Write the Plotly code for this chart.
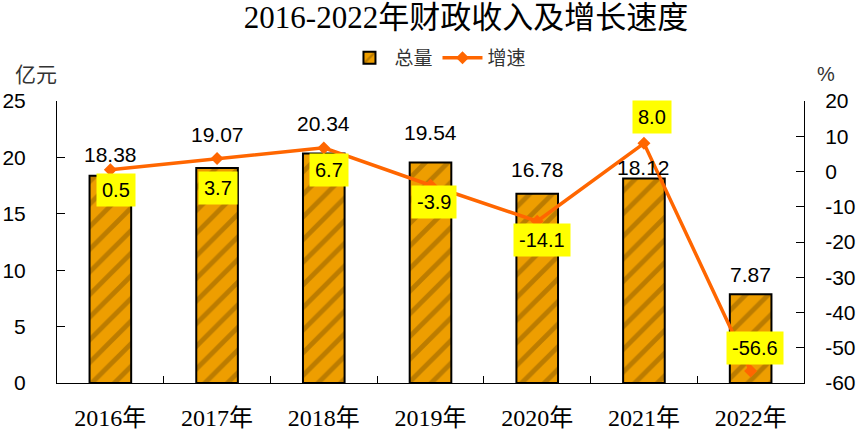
import plotly.graph_objects as go

# ---- data ----
years = ["2016年", "2017年", "2018年", "2019年", "2020年", "2021年", "2022年"]
revenue = [18.38, 19.07, 20.34, 19.54, 16.78, 18.12, 7.87]   # 亿元
growth = [0.5, 3.7, 6.7, -3.9, -14.1, 8.0, -56.6]             # %

left_ticks = [0, 5, 10, 15, 20, 25]
right_ticks = [-60, -50, -40, -30, -20, -10, 0, 10, 20]

title_text = "2016-2022年财政收入及增长速度"
bar_name = "总量"
line_name = "增速"
left_unit = "亿元"
right_unit = "%"

# ---- label styling offsets (pixels) ----
bar_label_yshift = [21, 33, 30, 30, 24, 11, 20]
growth_label_yshift = [-20, -30, -22, -17, -19, 26, 23]
growth_label_xshift = [6, 1, 5, 3, 5, 8, 4]

SANS = "Liberation Sans, Arial, Noto Sans CJK SC, sans-serif"
SERIF = "Liberation Serif, Times New Roman, Noto Sans CJK SC, serif"
CJK = "Noto Sans CJK SC, sans-serif"

W, H = 862, 430
L, R, T, B = 57, 804, 101, 383

fig = go.Figure()

fig.add_trace(go.Bar(
    x=years, y=revenue, name=bar_name, width=0.39,
    marker=dict(
        color="#EE9E00",
        line=dict(color="black", width=2),
        pattern=dict(shape="/", fgcolor="#8A5A00", size=16, solidity=0.3),
    ),
    yaxis="y",
))

fig.add_trace(go.Scatter(
    x=years, y=growth, name=line_name, mode="lines+markers",
    line=dict(color="#FF6600", width=3.5),
    marker=dict(symbol="diamond", size=10, color="#FF6600"),
    yaxis="y2",
))

annotations = []
for i, (cat, v) in enumerate(zip(years, revenue)):
    annotations.append(dict(
        x=cat, y=v, xref="x", yref="y", text=f"{v:.2f}", showarrow=False,
        yanchor="middle", yshift=bar_label_yshift[i],
        font=dict(family=SANS, size=21, color="black"),
    ))
for i, (cat, g) in enumerate(zip(years, growth)):
    annotations.append(dict(
        x=cat, y=g, xref="x", yref="y2", text=f"{g:.1f}", showarrow=False,
        yanchor="middle", yshift=growth_label_yshift[i], xshift=growth_label_xshift[i],
        bgcolor="#FFFF00", borderpad=5,
        font=dict(family=SANS, size=20, color="black"),
    ))

def paper_xy(px, py):
    return (px - L) / (R - L), (B - py) / (B - T)

ux, uy = paper_xy(36, 73)
annotations.append(dict(
    x=ux, y=uy, xref="paper", yref="paper", text=left_unit, showarrow=False,
    xanchor="center", yanchor="middle",
    font=dict(family=CJK, size=21, color="#333333"),
))
ux, uy = paper_xy(826, 74)
annotations.append(dict(
    x=ux, y=uy, xref="paper", yref="paper", text=right_unit, showarrow=False,
    xanchor="center", yanchor="middle",
    font=dict(family=SANS, size=20, color="#333333"),
))

fig.update_layout(
    width=W, height=H,
    margin=dict(l=L, r=W - R, t=T, b=H - B, autoexpand=False),
    paper_bgcolor="white", plot_bgcolor="white",
    title=dict(text=title_text, x=466 / W, xanchor="center", y=1 - 17 / H, yanchor="middle",
               font=dict(family=SERIF, size=31, color="black")),
    showlegend=True,
    legend=dict(orientation="h", x=0.51, xanchor="center", y=1 + 43 / (B - T), yanchor="middle",
                font=dict(family=CJK, size=19, color="#333333"), itemwidth=40,
                bgcolor="rgba(0,0,0,0)"),
    xaxis=dict(
        type="category", range=[-0.5, 6.5], showline=True, linecolor="black", linewidth=1,
        ticks="inside", tickson="boundaries", ticklen=7, tickcolor="black",
        tickfont=dict(family=SERIF, size=24, color="black"), ticklabelstandoff=13,
        showgrid=False, zeroline=False, automargin=False,
    ),
    yaxis=dict(
        range=[0, 25], tickmode="array", tickvals=left_ticks,
        ticktext=[str(v) for v in left_ticks],
        showline=True, linecolor="black", linewidth=1,
        ticks="inside", ticklen=8, tickcolor="black",
        tickfont=dict(family=SANS, size=21, color="black"), ticklabelstandoff=26,
        showgrid=False, zeroline=False, automargin=False,
    ),
    yaxis2=dict(
        range=[-60, 20], tickmode="array", tickvals=right_ticks,
        ticktext=[str(v) for v in right_ticks],
        overlaying="y", side="right",
        showline=True, linecolor="black", linewidth=1,
        ticks="inside", ticklen=8, tickcolor="black",
        tickfont=dict(family=SANS, size=21, color="black"), ticklabelstandoff=16,
        showgrid=False, zeroline=False, automargin=False,
    ),
    annotations=annotations,
)

fig.write_html(
    "out.html",
    config={"displayModeBar": False},
    post_script="document.body.style.margin='0';document.body.style.padding='0';",
)
